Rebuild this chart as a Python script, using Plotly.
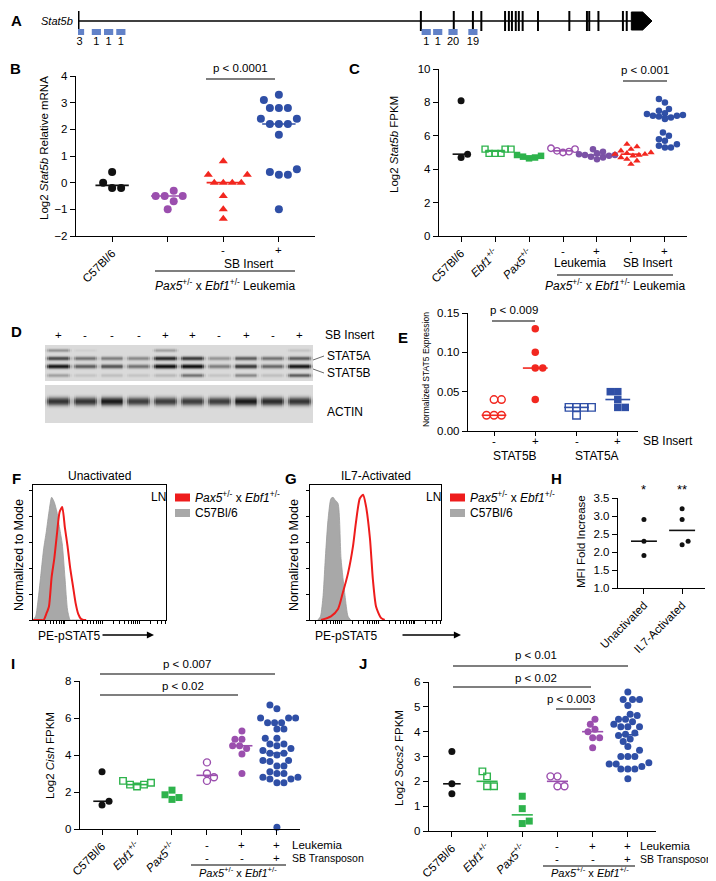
import numpy as np
import plotly.graph_objects as go

W, H = 716, 881
FONT = "Liberation Sans, Arial, Helvetica, sans-serif"

BLACK = "#111111"
PURPLE = "#9b4fae"
PURPLE_D = "#7b52a6"
RED = "#f2271f"
BLUE = "#2f4fa6"
GREEN = "#2eb34c"
LBLUE = "#6282c8"
GRAYFILL = "#a8a8a8"
FLOWRED = "#ee1c1c"

# ---------------- Panel A : Stat5b gene, SB insertion sites ----------------
exon_kb = [0.0, 44.8, 49.1, 51.6, 52.7, 55.8, 56.3, 56.7, 57.2, 57.6, 58.1,
           60.1, 64.2, 66.5, 66.8, 68.0, 71.2, 71.7]
last_exon_kb = [72.3, 75.0]
insert_kb = [0.2, 2.4, 4.0, 5.6, 45.5, 47.0, 49.0, 51.6]
insert_counts = [3, 1, 1, 1, 1, 1, 20, 19]

# ---------------- Panel B : Log2 Stat5b relative mRNA ----------------
b_c57 = [0.4, 0.0, -0.2, -0.2]
b_leuk = [-0.5, -0.5, -0.5, -0.3, -0.7, -1.0]
b_sb_neg = [0.8, 0.3, 0.3, 0.0, 0.0, 0.0, 0.0, -0.5, -1.0, -1.35]
b_sb_pos = [3.3, 3.1, 2.8, 2.8, 2.8, 2.4, 2.4, 2.2, 2.2, 2.2, 1.8, 0.5, 0.4, 0.3, 0.3, -1.0]
b_ticks = ["C57Bl/6"]
b_signs = ["", "", "-", "+"]

# ---------------- Panel C : Log2 Stat5b FPKM ----------------
c_c57 = [8.1, 4.9, 4.7]
c_ebf1 = [5.2, 5.2, 5.2, 4.95, 4.95, 4.95]
c_pax5 = [4.85, 4.8, 4.75, 4.7, 4.65]
c_leuk_neg = [5.25, 5.2, 5.1, 5.05, 5.0]
c_leuk_pos = [5.2, 5.05, 4.95, 4.9, 4.85, 4.85, 4.8, 4.75, 4.7, 4.6]
c_sb_neg = [5.5, 5.35, 5.2, 5.1, 5.0, 4.95, 4.9, 4.9, 4.85, 4.8, 4.7, 4.6, 4.5, 4.3]
c_sb_pos = [8.2, 8.0, 7.6, 7.5, 7.4, 7.35, 7.3, 7.25, 7.2, 7.2, 7.15, 7.1, 7.0,
            6.2, 6.0, 5.8, 5.7, 5.5, 5.4, 5.3, 5.3]
c_ticks = ["C57Bl/6", "<i>Ebf1</i><sup>+/-</sup>", "<i>Pax5</i><sup>+/-</sup>"]
c_signs = ["", "", "", "-", "+", "-", "+"]

# ---------------- Panel D : western blot band intensities ----------------
d_sb_insert = ["+", "-", "-", "-", "+", "+", "-", "+", "-", "+"]
d_top_band = [0.30, 0.05, 0.00, 0.00, 0.25, 0.00, 0.00, 0.00, 0.00, 0.10]
d_stat5a = [0.65, 0.45, 0.40, 0.35, 0.85, 0.75, 0.30, 0.55, 0.45, 0.55]
d_stat5b = [0.95, 0.55, 0.60, 0.45, 1.00, 1.00, 0.40, 0.75, 0.50, 0.95]
d_low_band = [0.25, 0.10, 0.12, 0.10, 0.15, 0.45, 0.10, 0.35, 0.12, 0.55]
d_actin = [0.80, 0.80, 0.95, 0.75, 0.75, 0.75, 0.75, 0.95, 0.85, 0.80]

# ---------------- Panel E : normalized STAT5 expression ----------------
e_5b_neg = [0.04, 0.04, 0.02, 0.02, 0.02]
e_5b_pos = [0.13, 0.10, 0.08, 0.08, 0.04]
e_5a_neg = [0.03, 0.03, 0.03, 0.03, 0.02]
e_5a_pos = [0.05, 0.05, 0.04, 0.03, 0.03]
e_signs = ["-", "+", "-", "+"]
e_proteins = ["STAT5B", "STAT5A"]

# ---------------- Panels F, G : pSTAT5 flow histograms ----------------
f_ch = [0, 2, 4, 6, 8, 10, 12, 14, 16, 18, 20, 22, 24, 26, 28, 30, 32, 34, 36, 38, 40]
f_c57 = [0, 3, 18, 38, 58, 72, 88, 100, 96, 88, 75, 62, 35, 8, 0, 0, 0, 0, 0, 0, 0]
f_pax = [0, 0, 0, 0, 0, 5, 11, 35, 50, 70, 88, 92, 75, 60, 42, 28, 14, 5, 1, 0, 0]
g_c57_ch = [6, 8, 10, 11.5, 13.7, 16, 17.6, 19, 21.4, 23.7, 26.7, 29, 31]
g_c57 = [0, 3, 20, 47, 81, 99, 100, 98, 95, 50, 20, 3, 0]
g_pax_ch = [8.4, 16, 21.4, 25, 29, 32.8, 35, 38, 40.5, 42.7, 45.8, 48, 50.4, 54, 57]
g_pax = [0, 3, 9, 22, 38, 60, 79, 99, 102, 93, 66, 33, 11, 2, 0]

# ---------------- Panel H : MFI fold increase ----------------
h_unact = [2.9, 2.3, 1.9]
h_il7 = [3.2, 2.9, 2.3, 2.2]
h_ticks = ["Unactivated", "IL7-Activated"]
h_stars = ["*", "**"]

# ---------------- Panel I : Log2 Cish FPKM ----------------
i_c57 = [3.1, 1.5, 1.3]
i_ebf1 = [2.6, 2.5, 2.4, 2.4, 2.3]
i_pax5 = [2.1, 1.85, 1.7, 1.6]
i_leuk_neg = [3.6, 3.0, 2.8, 2.6]
i_leuk_pos = [5.3, 4.85, 4.85, 4.5, 4.5, 4.35, 4.05, 3.0]
i_sb_pos = [6.7, 6.5, 6.0, 6.0, 6.0, 5.75, 5.75, 5.75, 5.4, 5.4, 4.9, 4.9, 4.6, 4.6,
            4.5, 4.35, 4.25, 4.1, 4.1, 4.0, 3.7, 3.7, 3.65, 3.4, 3.4, 3.1, 3.0, 3.0,
            2.8, 2.8, 2.7, 2.7, 2.5, 2.5, 0.1]

# ---------------- Panel J : Log2 Socs2 FPKM ----------------
j_c57 = [3.2, 1.9, 1.5]
j_ebf1 = [2.4, 2.2, 1.8, 1.8]
j_pax5 = [1.4, 0.9, 0.4, 0.3]
j_leuk_neg = [2.2, 2.2, 1.8, 1.8]
j_leuk_pos = [4.5, 4.3, 4.1, 4.0, 3.75, 3.75, 3.35]
j_sb_pos = [5.6, 5.3, 5.3, 5.3, 5.05, 4.7, 4.65, 4.5, 4.5, 4.4, 4.3, 4.2, 4.2, 4.2,
            3.95, 3.9, 3.85, 3.7, 3.6, 3.4, 3.25, 3.0, 3.0, 3.0, 2.75, 2.7, 2.7, 2.6,
            2.5, 2.5, 2.5, 2.1]

ij_ticks = ["C57Bl/6", "<i>Ebf1</i><sup>+/-</sup>", "<i>Pax5</i><sup>+/-</sup>"]
ij_leukemia = ["", "", "", "-", "+", "+"]
ij_transposon = ["", "", "", "-", "-", "+"]

PAX_EBF = "<i>Pax5</i><sup>+/-</sup> x <i>Ebf1</i><sup>+/-</sup>"

# ======================================================================
fig = go.Figure()
layout = {}
axes = {}
annotations = []
shapes = []

TICKSTYLE = dict(ticks="outside", ticklen=5, tickwidth=1.4, tickcolor="black")


def cat_axis(n, labels, angle=-45):
    """category axis: labelled major ticks + plain minor ticks on every category"""
    return dict(tickvals=list(range(len(labels))), ticktext=labels, tickangle=angle,
                minor=dict(tickvals=list(range(n)), showgrid=False, **TICKSTYLE))


def add_axes(key, idx, xpx, ypx, xr, yr, xkw=None, ykw=None):
    xd = [xpx[0] / W, xpx[1] / W]
    yd = [1 - ypx[1] / H, 1 - ypx[0] / H]
    base = dict(showgrid=False, zeroline=False, showline=True, linecolor="black",
                linewidth=1.4, automargin=False, fixedrange=True,
                tickfont=dict(family=FONT, size=11.5, color="black"), **TICKSTYLE)
    xa = dict(base)
    xa.update(domain=xd, range=xr, anchor="y%d" % idx)
    ya = dict(base)
    ya.update(domain=yd, range=yr, anchor="x%d" % idx)
    if xkw:
        xa.update(xkw)
    if ykw:
        ya.update(ykw)
    layout["xaxis%d" % idx] = xa
    layout["yaxis%d" % idx] = ya
    axes[key] = dict(idx=idx, xd=xd, yd=yd, xr=xr, yr=yr, xpx=xpx, ypx=ypx)


def X(key, v):
    a = axes[key]
    return a["xd"][0] + (v - a["xr"][0]) / (a["xr"][1] - a["xr"][0]) * (a["xd"][1] - a["xd"][0])


def PX(x):
    return x / W


def PY(y):
    return 1 - y / H


def txt(x, y, s, size=12, xanchor="center", yanchor="middle", angle=0, bold=False):
    if bold:
        s = "<b>%s</b>" % s
    annotations.append(dict(x=PX(x), y=PY(y), xref="paper", yref="paper", text=s,
                            showarrow=False, xanchor=xanchor, yanchor=yanchor,
                            textangle=angle, font=dict(family=FONT, size=size, color="black")))


def txtp(xp, y, s, size=12, xanchor="center"):
    annotations.append(dict(x=xp, y=PY(y), xref="paper", yref="paper", text=s,
                            showarrow=False, xanchor=xanchor, yanchor="middle",
                            font=dict(family=FONT, size=size, color="black")))


def hline(x0, x1, y, w=1.2, color="black"):
    shapes.append(dict(type="line", xref="paper", yref="paper", x0=PX(x0), x1=PX(x1),
                       y0=PY(y), y1=PY(y), line=dict(color=color, width=w)))


def seg(x0, y0, x1, y1, w=0.8, color="#444444"):
    shapes.append(dict(type="line", xref="paper", yref="paper", x0=PX(x0), x1=PX(x1),
                       y0=PY(y0), y1=PY(y1), line=dict(color=color, width=w)))


def swarm(vals, key, d):
    a = axes[key]
    sx = (a["xpx"][1] - a["xpx"][0]) / (a["xr"][1] - a["xr"][0])
    sy = (a["ypx"][1] - a["ypx"][0]) / (a["yr"][1] - a["yr"][0])
    order = sorted(range(len(vals)), key=lambda i: vals[i])
    placed = []
    offs = [0.0] * len(vals)
    step = d / 3.0
    flip = 1
    for i in order:
        y = vals[i] * sy
        cands = [0.0]
        for j in range(1, 80):
            cands += [flip * j * step, -flip * j * step]
        c = 0.0
        for c in cands:
            if all((c - px) ** 2 + (y - py) ** 2 >= (0.95 * d) ** 2 for px, py in placed):
                break
        if c != 0:
            flip = -flip
        placed.append((c, y))
        offs[i] = c / sx
    return offs


def group(key, cat, vals, color, symbol="circle", size=7, d=None, open_=False,
          medw=0.3, lw=1.6, med=True):
    idx = axes[key]["idx"]
    offs = swarm(vals, key, d or size)
    xs = [cat + o for o in offs]
    marker = dict(symbol=symbol + ("-open" if open_ else ""), size=size, color=color,
                  line=dict(width=1.4 if open_ else 0, color=color))
    fig.add_trace(go.Scatter(x=xs, y=vals, mode="markers", marker=marker,
                             xaxis="x%d" % idx, yaxis="y%d" % idx, cliponaxis=False,
                             hoverinfo="skip"))
    if med:
        m = float(np.median(vals))
        fig.add_trace(go.Scatter(x=[cat - medw, cat + medw], y=[m, m], mode="lines",
                                 line=dict(color=color, width=lw), xaxis="x%d" % idx,
                                 yaxis="y%d" % idx, cliponaxis=False, hoverinfo="skip"))


# ---------------- Panel A ----------------
add_axes("A", 2, (70, 644), (0, 40), [0, 75], [-27, 13],
         xkw=dict(visible=False), ykw=dict(visible=False))
fig.add_trace(go.Scatter(x=[0, last_exon_kb[0]], y=[0, 0], mode="lines",
                         line=dict(color="black", width=1.5), xaxis="x2", yaxis="y2"))
ex_x, ex_y = [], []
for k in exon_kb[1:]:
    ex_x += [k, k, None]
    ex_y += [-10, 10, None]
fig.add_trace(go.Scatter(x=ex_x, y=ex_y, mode="lines", line=dict(color="black", width=2),
                         xaxis="x2", yaxis="y2"))
fig.add_trace(go.Scatter(x=[exon_kb[0], exon_kb[0]], y=[-10, 10], mode="lines",
                         line=dict(color="black", width=3), xaxis="x2", yaxis="y2"))
a0, a1 = last_exon_kb
tip = a1 - (a1 - a0) * 0.45
fig.add_trace(go.Scatter(x=[a0, tip, a1, tip, a0, a0], y=[9, 9, 0, -9, -9, 9],
                         mode="lines", fill="toself", fillcolor="black",
                         line=dict(color="black", width=1), xaxis="x2", yaxis="y2"))
ins_x, ins_y = [], []
for k in insert_kb:
    ins_x += [k - 0.6, k + 0.6, None]
    ins_y += [-11, -11, None]
fig.add_trace(go.Scatter(x=ins_x, y=ins_y, mode="lines", line=dict(color=LBLUE, width=6),
                         xaxis="x2", yaxis="y2"))
fig.add_trace(go.Scatter(x=insert_kb, y=[-21] * len(insert_kb), mode="text",
                         text=[str(c) for c in insert_counts],
                         textfont=dict(family=FONT, size=11, color="black"),
                         xaxis="x2", yaxis="y2", cliponaxis=False))
txt(8, 12, "A", size=15, bold=True)
txt(67, 13, "<i>Stat5b</i>", size=11, xanchor="right")

# ---------------- Panel B ----------------
add_axes("B", 3, (68, 307), (68, 228), [-0.65, 3.65], [-2, 4],
         xkw=cat_axis(4, b_ticks), ykw=dict(dtick=1))
group("B", 0, b_c57, BLACK, size=8, d=9)
group("B", 1, b_leuk, PURPLE, size=8, d=9)
group("B", 2, b_sb_neg, RED, symbol="triangle-up", size=8, d=9)
group("B", 3, b_sb_pos, BLUE, size=8, d=9)
txt(7, 60, "B", size=15, bold=True)
txt(36, 140, "Log2 <i>Stat5b</i> Relative mRNA", size=11.5, angle=-90)
txt(232, 60, "p &lt; 0.0001", size=11.5)
hline(198, 267, 71)
for i, s in enumerate(b_signs):
    if s:
        txtp(X("B", i), 242, s, size=11.5)
txt(241, 256, "SB Insert", size=12)
hline(147, 287, 263)
txt(217, 277, PAX_EBF + " Leukemia", size=12)

# ---------------- Panel C ----------------
add_axes("C", 4, (431, 679), (61, 228), [-0.65, 6.65], [0, 10],
         xkw=cat_axis(7, c_ticks), ykw=dict(dtick=2))
group("C", 0, c_c57, BLACK, size=7, d=6.5, medw=0.25)
group("C", 1, c_ebf1, GREEN, symbol="square", size=6, d=6, open_=True)
group("C", 2, c_pax5, GREEN, symbol="square", size=6.5, d=6)
group("C", 3, c_leuk_neg, PURPLE, size=6.5, d=6, open_=True)
group("C", 4, c_leuk_pos, PURPLE_D, size=6.5, d=6)
group("C", 5, c_sb_neg, RED, symbol="triangle-up", size=6.5, d=6)
group("C", 6, c_sb_pos, BLUE, size=6.5, d=6)
txt(346, 60, "C", size=15, bold=True)
txt(386, 137, "Log2 <i>Stat5b</i> FPKM", size=11.5, angle=-90)
txt(637, 62, "p &lt; 0.001", size=11.5)
hline(615, 659, 73)
for i, s in enumerate(c_signs):
    if s:
        txtp(X("C", i), 243, s, size=11.5)
txtp(X("C", 3.5), 255, "Leukemia", size=12)
txtp(X("C", 5.5), 255, "SB Insert", size=12)
hline(549, 665, 267)
txt(607, 277, PAX_EBF + " Leukemia", size=12)

# ---------------- Panel D (blot) ----------------
def blot_image(rows, sigmas, intensities, nrows, cpl=14, bg=0.08):
    nl = len(intensities[0])
    z = np.full((nrows, nl * cpl), bg)
    r = np.arange(nrows)[:, None]
    u = (np.arange(cpl) + 0.5) / cpl
    wprof = np.clip(np.minimum(u, 1 - u) / 0.16, 0, 1)
    for row, sig, vals in zip(rows, sigmas, intensities):
        for l, v in enumerate(vals):
            c0 = l * cpl
            z[:, c0:c0 + cpl] += v * np.exp(-0.5 * ((r - row) / sig) ** 2) * wprof[None, :]
    xs = np.linspace(-0.5 + 0.5 / cpl, len(intensities[0]) - 0.5 - 0.5 / cpl, nl * cpl)
    return z, xs


blot_scale = [[0, "#e4e4e4"], [0.08, "#d9d9d9"], [0.5, "#6a6a6a"], [1, "#050505"]]
noaxis = dict(showline=False, ticks="", showticklabels=False)
add_axes("D1", 5, (37, 305), (337, 373), [-0.5, 9.5], [35.5, -0.5], xkw=noaxis, ykw=noaxis)
z1, xs1 = blot_image([5, 13, 21, 30], [1.2, 1.4, 1.5, 1.3],
                     [d_top_band, d_stat5a, d_stat5b, d_low_band], 36)
fig.add_trace(go.Heatmap(z=z1, x=xs1, y=list(range(36)), colorscale=blot_scale, zmin=0,
                         zmax=1.15, showscale=False, xaxis="x5", yaxis="y5", hoverinfo="skip"))
add_axes("D2", 6, (37, 305), (377, 415), [-0.5, 9.5], [37.5, -0.5], xkw=noaxis, ykw=noaxis)
z2, xs2 = blot_image([16], [2.8], [d_actin], 38)
fig.add_trace(go.Heatmap(z=z2, x=xs2, y=list(range(38)), colorscale=blot_scale, zmin=0,
                         zmax=1.15, showscale=False, xaxis="x6", yaxis="y6", hoverinfo="skip"))
txt(8, 323, "D", size=15, bold=True)
for i, s in enumerate(d_sb_insert):
    txtp(X("D1", i), 327, s, size=11.5)
txt(315, 327, "SB Insert", size=12, xanchor="left")
txt(317, 348, "STAT5A", size=12, xanchor="left")
txt(317, 365, "STAT5B", size=12, xanchor="left")
txt(317, 404, "ACTIN", size=12, xanchor="left")
seg(305, 352, 316, 348)
seg(305, 361, 316, 365)

# ---------------- Panel E ----------------
add_axes("E", 7, (460, 630), (305, 423), [-0.63, 3.49], [0, 0.15],
         xkw=dict(tickvals=[0, 1, 2, 3], showticklabels=False, ticklen=4),
         ykw=dict(tickvals=[0, 0.05, 0.10, 0.15], ticktext=["0.00", "0.05", "0.10", "0.15"]))
group("E", 0, e_5b_neg, RED, size=7.5, d=7.5, open_=True)
group("E", 1, e_5b_pos, RED, size=7.5, d=7.5)
group("E", 2, e_5a_neg, BLUE, symbol="square", size=7.5, d=7.5, open_=True)
group("E", 3, e_5a_pos, BLUE, symbol="square", size=7.5, d=7.5)
txt(395, 329, "E", size=15, bold=True)
txt(418, 362, "Normalized STAT5 Expression", size=8.5, angle=-90)
txt(506, 302, "p &lt; 0.009", size=11.5)
hline(484, 527, 313)
for i, s in enumerate(e_signs):
    txtp(X("E", i), 433, s, size=11.5)
txt(633, 433, "SB Insert", size=12, xanchor="left")
txtp(X("E", 0.5), 448, e_proteins[0], size=12)
txtp(X("E", 2.5), 448, e_proteins[1], size=12)

# ---------------- Panels F, G ----------------
flow_ticks = []
for start in [-4, 24, 52, 80]:
    for k in range(1, 10):
        v = start + 28 * np.log10(k)
        if 0 < v < 100:
            flow_ticks.append(round(float(v), 2))
flow_x = dict(mirror=True, linewidth=1, ticklen=3, tickwidth=1, showticklabels=False,
              tickvals=flow_ticks)
flow_y = dict(mirror=True, linewidth=1, ticklen=3, tickwidth=1, showticklabels=False,
              tick0=0, dtick=21.1)

add_axes("F", 8, (25, 158), (477, 612), [0, 100], [0, 110], xkw=flow_x, ykw=flow_y)
fig.add_trace(go.Scatter(x=f_ch, y=f_c57, mode="lines", fill="tozeroy", fillcolor=GRAYFILL,
                         line=dict(color="#9a9a9a", width=0.8, shape="spline", smoothing=0.6),
                         xaxis="x8", yaxis="y8"))
fig.add_trace(go.Scatter(x=f_ch, y=f_pax, mode="lines",
                         line=dict(color=FLOWRED, width=2, shape="spline", smoothing=0.6),
                         xaxis="x8", yaxis="y8"))
add_axes("G", 9, (302, 433), (477, 612), [0, 100], [0, 110], xkw=flow_x, ykw=flow_y)
fig.add_trace(go.Scatter(x=g_c57_ch, y=g_c57, mode="lines", fill="tozeroy", fillcolor=GRAYFILL,
                         line=dict(color="#9a9a9a", width=0.8, shape="spline", smoothing=0.6),
                         xaxis="x9", yaxis="y9"))
fig.add_trace(go.Scatter(x=g_pax_ch, y=g_pax, mode="lines",
                         line=dict(color=FLOWRED, width=2, shape="spline", smoothing=0.6),
                         xaxis="x9", yaxis="y9"))

for letter, lx, title, box_l, box_r, ytx, arrow in [
        ("F", 8, "Unactivated", 25, 158, 11, (93, 146)),
        ("G", 283, "IL7-Activated", 302, 433, 286, (393, 453))]:
    txt(lx, 470, letter, size=15, bold=True)
    txt((box_l + box_r) / 2, 468, title, size=12)
    txt(box_r - 8, 489, "LN", size=12)
    txt(ytx, 547, "Normalized to Mode", size=12.5, angle=-90)
    txt(box_l + 3, 628, "PE-pSTAT5", size=12, xanchor="left")
    annotations.append(dict(x=PX(arrow[1]), y=PY(627), xref="paper", yref="paper", text="",
                            showarrow=True, ax=-(arrow[1] - arrow[0]), ay=0, arrowhead=2,
                            arrowsize=1.1, arrowwidth=1.3, arrowcolor="black"))
    lg = box_r + 9
    shapes.append(dict(type="rect", xref="paper", yref="paper", x0=PX(lg), x1=PX(lg + 15),
                       y0=PY(493.5), y1=PY(485.5), fillcolor=FLOWRED, line=dict(width=0)))
    shapes.append(dict(type="rect", xref="paper", yref="paper", x0=PX(lg), x1=PX(lg + 15),
                       y0=PY(509), y1=PY(501), fillcolor=GRAYFILL, line=dict(width=0)))
    txt(lg + 18, 489, PAX_EBF, size=12, xanchor="left")
    txt(lg + 18, 505, "C57Bl/6", size=12, xanchor="left")

# ---------------- Panel H ----------------
add_axes("H", 10, (610, 697), (490, 580), [-0.68, 1.6], [1.0, 3.5],
         xkw=dict(tickvals=[0, 1], ticktext=h_ticks, tickangle=-45),
         ykw=dict(dtick=0.5, tickformat=".1f"))
group("H", 0, h_unact, BLACK, size=5, d=6, medw=0.34, lw=1.6)
group("H", 1, h_il7, BLACK, size=5, d=6, medw=0.34, lw=1.6)
txt(548, 471, "H", size=15, bold=True)
txt(573, 534, "MFI Fold Increase", size=11.5, angle=-90)
for i, s in enumerate(h_stars):
    txtp(X("H", i), 481, s, size=13)

# ---------------- Panel I ----------------
add_axes("I", 11, (72, 292), (673, 821), [-0.63, 5.66], [0, 8],
         xkw=cat_axis(6, ij_ticks), ykw=dict(dtick=2))
group("I", 0, i_c57, BLACK, size=7, d=7, medw=0.25)
group("I", 1, i_ebf1, GREEN, symbol="square", size=6.5, d=7, open_=True)
group("I", 2, i_pax5, GREEN, symbol="square", size=7, d=7, med=False)
group("I", 3, i_leuk_neg, PURPLE, size=7, d=7, open_=True)
group("I", 4, i_leuk_pos, PURPLE, size=7, d=7)
group("I", 5, i_sb_pos, BLUE, size=7, d=7)
txt(5, 655, "I", size=15, bold=True)
txt(42, 748, "Log2 <i>Cish</i> FPKM", size=11.5, angle=-90)
txt(179, 656, "p &lt; 0.007", size=11.5)
hline(92, 267, 666)
txt(175, 678, "p &lt; 0.02", size=11.5)
hline(92, 230, 687)

# ---------------- Panel J ----------------
add_axes("J", 12, (421, 648), (674, 823), [-0.65, 5.8], [0, 6],
         xkw=cat_axis(6, ij_ticks), ykw=dict(dtick=1))
group("J", 0, j_c57, BLACK, size=7, d=7, medw=0.25)
group("J", 1, j_ebf1, GREEN, symbol="square", size=6.5, d=7, open_=True)
group("J", 2, j_pax5, GREEN, symbol="square", size=7, d=7)
group("J", 3, j_leuk_neg, PURPLE, size=7, d=7, open_=True)
group("J", 4, j_leuk_pos, PURPLE, size=7, d=7)
group("J", 5, j_sb_pos, BLUE, size=7, d=7)
txt(355, 655, "J", size=15, bold=True)
txt(391, 750, "Log2 <i>Socs2</i> FPKM", size=11.5, angle=-90)
txt(528, 647, "p &lt; 0.01", size=11.5)
hline(445, 620, 658)
txt(528, 670, "p &lt; 0.02", size=11.5)
hline(445, 583, 679)
txt(563, 691, "p &lt; 0.003", size=11.5)
hline(548, 583, 701)

# shared leukemia / transposon rows for I and J
for key, y1, y2, lx, line_x, tag_y, tag_x in [
        ("I", 837, 850, 282, (183, 278), 864, 230),
        ("J", 838, 851, 630, (535, 627), 864, 582)]:
    for i in range(6):
        if ij_leukemia[i]:
            txtp(X(key, i), y1, ij_leukemia[i], size=11.5)
        if ij_transposon[i]:
            txtp(X(key, i), y2, ij_transposon[i], size=11.5)
    txt(lx, y1, "Leukemia", size=11.5, xanchor="left")
    txt(lx, y2, "SB Transposon", size=10.5, xanchor="left")
    hline(line_x[0], line_x[1], y2 + 7)
    txt(tag_x, tag_y, PAX_EBF, size=11)

layout.update(width=W, height=H, margin=dict(l=0, r=0, t=0, b=0), template="none",
              paper_bgcolor="white", plot_bgcolor="rgba(0,0,0,0)", showlegend=False,
              font=dict(family=FONT, size=11, color="black"),
              xaxis=dict(visible=False), yaxis=dict(visible=False),
              annotations=annotations, shapes=shapes)
fig.update_layout(**layout)
fig.write_html("out.html")
